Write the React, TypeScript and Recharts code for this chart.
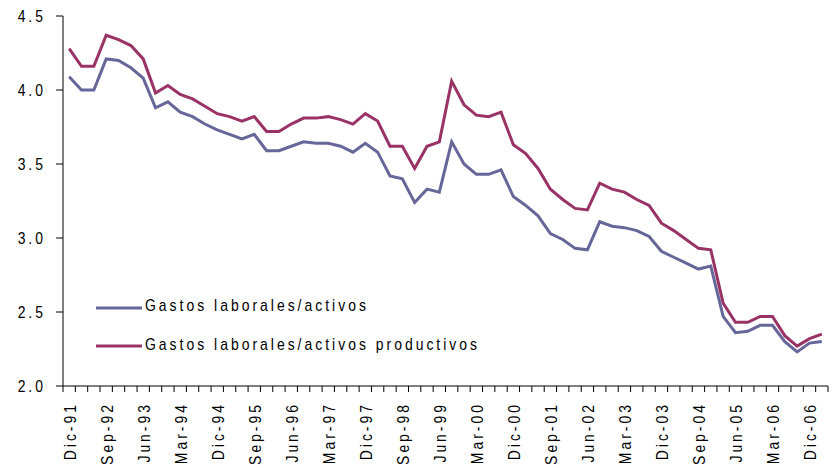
import React from "react";
import { LineChart, Line, XAxis, YAxis } from "recharts";

const BLUE = "#666699";
const RED = "#993366";
// Arial Narrow look: Liberation Sans squeezed to 82 %
const FONT = "'Liberation Sans', Arial, sans-serif";
const SQUEEZE = 0.82;
const SPACING = 3 / SQUEEZE;

const quarters = [
  "Dic-91",
  "Mar-92", "Jun-92", "Sep-92", "Dic-92",
  "Mar-93", "Jun-93", "Sep-93", "Dic-93",
  "Mar-94", "Jun-94", "Sep-94", "Dic-94",
  "Mar-95", "Jun-95", "Sep-95", "Dic-95",
  "Mar-96", "Jun-96", "Sep-96", "Dic-96",
  "Mar-97", "Jun-97", "Sep-97", "Dic-97",
  "Mar-98", "Jun-98", "Sep-98", "Dic-98",
  "Mar-99", "Jun-99", "Sep-99", "Dic-99",
  "Mar-00", "Jun-00", "Sep-00", "Dic-00",
  "Mar-01", "Jun-01", "Sep-01", "Dic-01",
  "Mar-02", "Jun-02", "Sep-02", "Dic-02",
  "Mar-03", "Jun-03", "Sep-03", "Dic-03",
  "Mar-04", "Jun-04", "Sep-04", "Dic-04",
  "Mar-05", "Jun-05", "Sep-05", "Dic-05",
  "Mar-06", "Jun-06", "Sep-06", "Dic-06",
  "Mar-07",
];

// Gastos laborales / activos
const sobreActivos = [
  4.09, 4.0, 4.0, 4.21, 4.2, 4.15, 4.08, 3.88, 3.92, 3.85,
  3.82, 3.77, 3.73, 3.7, 3.67, 3.7, 3.59, 3.59, 3.62, 3.65,
  3.64, 3.64, 3.62, 3.58, 3.64, 3.58, 3.42, 3.4, 3.24, 3.33,
  3.31, 3.65, 3.5, 3.43, 3.43, 3.46, 3.28, 3.22, 3.15, 3.03,
  2.99, 2.93, 2.92, 3.11, 3.08, 3.07, 3.05, 3.01, 2.91, 2.87,
  2.83, 2.79, 2.81, 2.47, 2.36, 2.37, 2.41, 2.41, 2.3, 2.23,
  2.29, 2.3,
];

// Gastos laborales / activos productivos
const sobreProductivos = [
  4.28, 4.16, 4.16, 4.37, 4.34, 4.3, 4.21, 3.98, 4.03, 3.97,
  3.94, 3.89, 3.84, 3.82, 3.79, 3.82, 3.72, 3.72, 3.77, 3.81,
  3.81, 3.82, 3.8, 3.77, 3.84, 3.79, 3.62, 3.62, 3.47, 3.62,
  3.65, 4.06, 3.9, 3.83, 3.82, 3.85, 3.63, 3.57, 3.47, 3.33,
  3.26, 3.2, 3.19, 3.37, 3.33, 3.31, 3.26, 3.22, 3.1, 3.05,
  2.99, 2.93, 2.92, 2.56, 2.43, 2.43, 2.47, 2.47, 2.34, 2.27,
  2.32, 2.35,
];

const yTicks = [2.0, 2.5, 3.0, 3.5, 4.0, 4.5];

const data = quarters.map((q, i) => ({
  q,
  activos: sobreActivos[i],
  productivos: sobreProductivos[i],
}));

const HALF_STEP = 6.17;

function XTick(props: any) {
  const { x, y, index, payload } = props;
  return (
    <g>
      <line x1={x + HALF_STEP} y1={y} x2={x + HALF_STEP} y2={y + 6} stroke="#000" strokeWidth={1} />
      {index === 0 && <line x1={x - HALF_STEP} y1={y} x2={x - HALF_STEP} y2={y + 6} stroke="#000" strokeWidth={1} />}
      {index % 3 === 0 && (
        <text
          transform={`translate(${x + 0.5}, ${y + 16}) rotate(-90) scale(${SQUEEZE}, 1)`}
          textAnchor="end"
          dominantBaseline="central"
          fontFamily={FONT}
          fontSize={17}
          fill="#000"
          style={{ letterSpacing: SPACING }}
        >
          {payload.value}
        </text>
      )}
    </g>
  );
}

function YTick(props: any) {
  const { x, y, payload } = props;
  return (
    <text
      transform={`translate(${x - 10}, ${y}) scale(${SQUEEZE}, 1)`}
      textAnchor="end"
      dominantBaseline="central"
      fontFamily={FONT}
      fontSize={17}
      fill="#000"
      style={{ letterSpacing: SPACING }}
    >
      {payload.value.toFixed(1)}
    </text>
  );
}

const legendRows = [
  { label: "Gastos laborales/activos", color: BLUE },
  { label: "Gastos laborales/activos productivos", color: RED },
];

function LegendBox() {
  return (
    <div
      style={{
        position: "absolute",
        left: 95,
        top: 287,
        fontFamily: FONT,
        fontSize: 17,
        letterSpacing: SPACING,
        whiteSpace: "nowrap",
      }}
    >
      {legendRows.map((r) => (
        <div key={r.label} style={{ display: "flex", alignItems: "center", height: 38.5 }}>
          <svg width={50} height={6} style={{ marginTop: 3 }}>
            <line x1={1} y1={3} x2={47} y2={3} stroke={r.color} strokeWidth={3} />
          </svg>
          <span style={{ display: "inline-block", transform: `scaleX(${SQUEEZE})`, transformOrigin: "left center" }}>
            {r.label}
          </span>
        </div>
      ))}
    </div>
  );
}

export default function App() {
  return (
    <div style={{ position: "absolute", left: 0, top: 0, width: 832, height: 468, background: "#fff" }}>
      <LineChart width={832} height={468} data={data} margin={{ top: 16, right: 4, bottom: 0, left: 0 }}>
        <XAxis
          dataKey="q"
          interval={0}
          height={82}
          stroke="#000"
          tickLine={false}
          tickSize={0}
          tickMargin={0}
          padding={{ left: HALF_STEP, right: HALF_STEP }}
          tick={<XTick />}
        />
        <YAxis
          width={63}
          domain={[2, 4.5]}
          ticks={yTicks}
          stroke="#000"
          tickSize={7}
          tickMargin={0}
          tick={<YTick />}
        />
        <Line type="linear" dataKey="activos" stroke={BLUE} strokeWidth={3} dot={false} isAnimationActive={false} />
        <Line type="linear" dataKey="productivos" stroke={RED} strokeWidth={3} dot={false} isAnimationActive={false} />
      </LineChart>
      <LegendBox />
    </div>
  );
}
